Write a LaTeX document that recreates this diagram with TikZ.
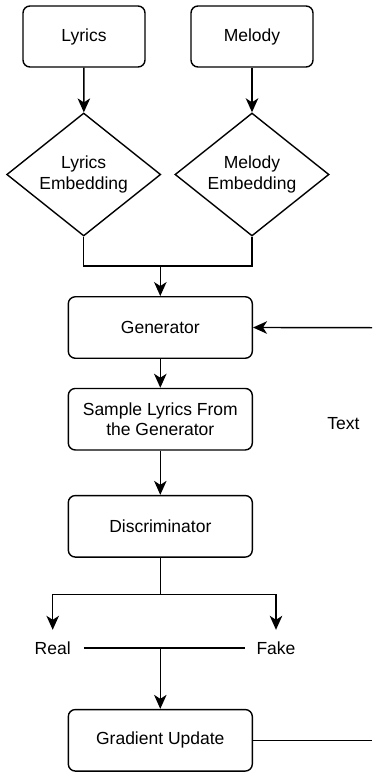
\documentclass[tikz,border=0pt]{standalone}
\usepackage{fontspec}
\setmainfont{Liberation Sans}
\usetikzlibrary{shapes.geometric,arrows.meta}
\begin{document}
\begin{tikzpicture}[x=1pt,y=-1pt,
  every node/.style={font=\fontsize{17.5}{20.5}\selectfont, inner sep=0pt, align=center},
  box/.style={draw, line width=1.4pt, rounded corners=7pt, minimum width=184pt, minimum height=61.5pt},
  inbox/.style={draw, line width=1.4pt, rounded corners=7pt, minimum width=122pt, minimum height=61pt},
  dia/.style={draw, line width=1.4pt, diamond, shape aspect=1.25, minimum width=154pt, minimum height=123pt},
  lab/.style={minimum width=62pt, minimum height=36pt},
  conn/.style={line width=1.4pt},
  arr/.style={conn, -{Stealth[length=14pt,width=12.5pt,inset=4pt]}}
]
\useasboundingbox (0,0) rectangle (372,773);
\node[inbox] (lyr) at (84,36.5) {Lyrics};
\node[inbox] (mel) at (252,36.5) {Melody};
\node[dia] (ld) at (83.7,174.5) {Lyrics\\Embedding};
\node[dia] (md) at (252,174.5) {Melody\\Embedding};
\node[box] (gen) at (160.3,327.5) {Generator};
\node[box] (smp) at (160.3,419.2) {Sample Lyrics From\\the Generator};
\node[box] (dis) at (160.3,526.3) {Discriminator};
\node[box] (grd) at (160.3,740.3) {Gradient Update};
\node[lab] (real) at (52.7,648) {Real};
\node[lab] (fake) at (276,648) {Fake};
\node (txt) at (343.5,424) {Text};
\coordinate (j) at (160.3,266);
\coordinate (s) at (160.3,594.3);
\coordinate (m) at (160.3,648);
\coordinate (rin) at (372,327.7);
\coordinate (rout) at (372,740.3);

\draw[arr] (lyr) -- (ld);
\draw[arr] (mel) -- (md);
\draw[conn] (ld.south) |- (j);
\draw[conn] (md.south) |- (j);
\draw[arr] (j) -- (gen);
\draw[arr] (rin) -- (gen.east);
\draw[arr] (gen) -- (smp);
\draw[arr] (smp) -- (dis);
\draw[conn] (dis.south) -- (s);
\draw[arr] (s) -| (real.north);
\draw[arr] (s) -| (fake.north);
\draw[conn] (real.east) -- (fake.west);
\draw[arr] (m) -- (grd);
\draw[conn] (grd.east) -- (rout);
\end{tikzpicture}
\end{document}
